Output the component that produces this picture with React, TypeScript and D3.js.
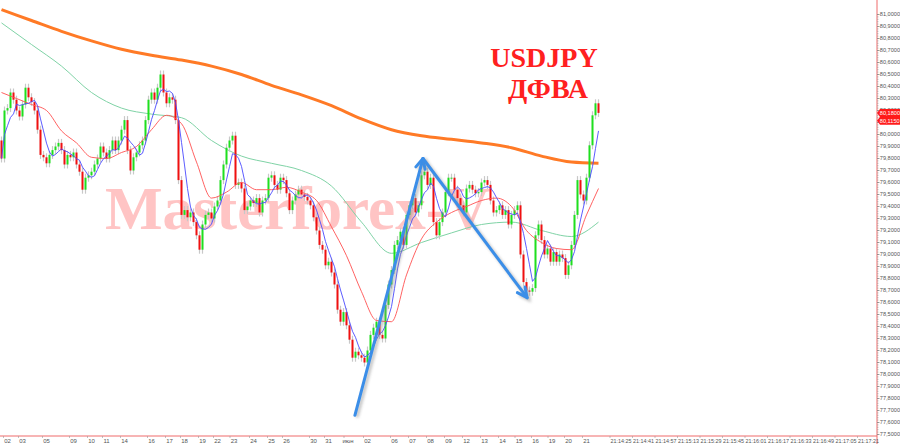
import React from "react";
import * as d3 from "d3";

// ---- DATA ----
const firstOpen = 79.95;
const closes: number[] = [
  79.80, 80.20, 80.22, 80.35, 80.29, 80.20, 80.15, 80.25, 80.39, 80.31,
  80.27, 80.20, 80.04, 79.83, 79.81, 79.76, 79.83, 79.87, 79.90, 79.93,
  79.87, 79.75, 79.83, 79.81, 79.85, 79.75, 79.69, 79.54, 79.64, 79.66,
  79.69, 79.75, 79.80, 79.90, 79.85, 79.80, 79.87, 79.95, 79.87, 79.95,
  80.04, 80.12, 79.87, 79.70, 79.81, 79.85, 79.91, 79.95, 80.12, 80.29,
  80.35, 80.29, 80.39, 80.50, 80.35, 80.26, 80.31, 80.29, 80.12, 79.62,
  79.33, 79.37, 79.31, 79.35, 79.27, 79.16, 79.04, 79.25, 79.33, 79.35,
  79.30, 79.40, 79.45, 79.62, 79.75, 79.89, 79.95, 79.99, 79.58, 79.60,
  79.55, 79.37, 79.40, 79.45, 79.43, 79.47, 79.35, 79.45, 79.47, 79.64,
  79.66, 79.58, 79.54, 79.64, 79.62, 79.51, 79.37, 79.45, 79.50, 79.54,
  79.50, 79.48, 79.45, 79.41, 79.31, 79.20, 79.08, 79.04, 78.91, 78.94,
  78.85, 78.75, 78.54, 78.44, 78.52, 78.41, 78.29, 78.14, 78.19, 78.16,
  78.14, 78.10, 78.20, 78.33, 78.39, 78.44, 78.33, 78.30, 78.58, 78.75,
  78.87, 79.08, 79.12, 79.19, 79.08, 79.33, 79.41, 79.47, 79.35, 79.41,
  79.66, 79.69, 79.58, 79.64, 79.27, 79.16, 79.27, 79.35, 79.52, 79.64,
  79.64, 79.54, 79.47, 79.41, 79.35, 79.55, 79.58, 79.54, 79.51, 79.52,
  79.60, 79.62, 79.58, 79.45, 79.35, 79.37, 79.41, 79.33, 79.37, 79.25,
  79.33, 79.37, 79.41, 79.00, 78.77, 78.70, 78.69, 78.72, 79.16, 79.25,
  79.12, 79.00, 79.05, 78.94, 79.02, 78.94, 79.00, 78.97, 78.83, 78.91,
  79.08, 79.33, 79.62, 79.50, 79.45, 79.64, 79.91, 80.16, 80.26, 80.18,
];

// moving averages (red: every 5 bars, green/orange: every 10 bars)
const redMA: number[] = [
  80.35, 80.30, 80.25, 80.20, 80.03, 79.93, 79.81, 79.80, 79.85, 79.90,
  80.04, 80.16, 80.09, 79.77, 79.47, 79.52, 79.60, 79.54, 79.54, 79.56,
  79.52, 79.45, 79.23, 78.99, 78.69, 78.45, 78.44, 78.83, 79.13, 79.27,
  79.35, 79.40, 79.45, 79.47, 79.40, 79.20, 79.10, 79.05, 79.04, 79.33,
  79.55,
];
const greenMA: number[] = [
  80.93, 80.75, 80.57, 80.35, 80.22, 80.17, 80.14, 79.95, 79.82, 79.76,
  79.70, 79.57, 79.27, 79.01, 79.10, 79.18, 79.25, 79.27, 79.20, 79.15,
  79.27,
];
const orangeMA: number[] = [
  81.04, 80.95, 80.86, 80.78, 80.71, 80.66, 80.62, 80.57, 80.50, 80.41,
  80.33, 80.24, 80.13, 80.04, 79.99, 79.96, 79.93, 79.89, 79.82, 79.77,
  79.76,
];

const yTickValues: number[] = [
  77.5, 77.6, 77.7, 77.8, 77.9, 78.0, 78.1, 78.2, 78.3, 78.4, 78.5, 78.6,
  78.7, 78.8, 78.9, 79.0, 79.1, 79.2, 79.3, 79.4, 79.5, 79.6, 79.7, 79.8,
  79.9, 80.0, 80.1, 80.2, 80.3, 80.4, 80.5, 80.6, 80.7, 80.8, 80.9, 81.0,
];

const dayLabels: string[] = [
  "02", "03", "05", "09", "10", "11", "14", "16", "17", "18", "19", "22", "23",
  "24", "25", "26", "30", "31", "июн", "02", "06", "07", "08", "09", "12",
  "13", "14", "15", "16", "19", "20", "21",
];
const dayLabelIdx: number[] = [
  2, 7, 15, 24, 30, 35, 41, 50, 56, 61, 67, 72, 77.5, 84, 90, 95, 104, 109,
  115.5, 122, 131, 137, 143, 149, 155, 161, 167, 172.5, 178, 183.5, 189, 195,
];
const timeLabels: string[] = [
  "21:14:25", "21:14:41", "21:14:57", "21:15:13", "21:15:29", "21:15:45",
  "21:16:01", "21:16:17", "21:16:33", "21:16:49", "21:17:05", "21:17:21",
];
const timeLabelIdx: number[] = [
  206.5, 214, 221.5, 229, 236.5, 244, 251.5, 259, 266.5, 274, 281.5, 289,
];

// arrows: [bar index, price]
const arrowUp: [number, number][] = [[117.8, 77.66], [140.5, 79.8]];
const arrowDown: [number, number][] = [[140.5, 79.8], [175.2, 78.64]];

const lastPrices: number[] = [80.18, 80.115];
const lastPriceTexts: string[] = ["80,1800", "80,1150"];

// ---- COMPONENT ----
export default function App() {
  const W = 900;
  const H = 444;
  const axisX = 877;
  const axisY = 436;

  const x = d3.scaleLinear().domain([0, 199]).range([1.5, 598.5]);
  const y = d3.scaleLinear().domain([77.5, 81]).range([434.5, 14.5]);

  const candles = closes.map((c, i) => ({ i, o: i === 0 ? firstOpen : closes[i - 1], c }));
  const blue: [number, number][] = closes.map((_, i) => [
    i,
    d3.mean(closes.slice(Math.max(0, i - 4), i + 1)) as number,
  ]);

  const smooth = d3
    .line<[number, number]>()
    .x((d) => x(d[0]))
    .y((d) => y(d[1]))
    .curve(d3.curveMonotoneX);
  const straight = d3
    .line<[number, number]>()
    .x((d) => x(d[0]))
    .y((d) => y(d[1]));

  const redPts: [number, number][] = redMA.map((v, k) => [Math.min(k * 5, 199), v]);
  const greenPts: [number, number][] = greenMA.map((v, k) => [Math.min(k * 10, 199), v]);
  const orangePts: [number, number][] = orangeMA.map((v, k) => [Math.min(k * 10, 199), v]);

  const fmt = (v: number) => d3.format(".4f")(v).replace(".", ",");
  const minor = d3.range(77.5, 81.0001, 0.02);

  const arrowHead = (pts: [number, number][]) => {
    const [a, b] = pts;
    const x1 = x(a[0]), y1 = y(a[1]), x2 = x(b[0]), y2 = y(b[1]);
    const ang = Math.atan2(y2 - y1, x2 - x1);
    const len = 11;
    const spread = Math.PI / 7;
    const p1 = [x2 - len * Math.cos(ang - spread), y2 - len * Math.sin(ang - spread)];
    const p2 = [x2 - len * Math.cos(ang + spread), y2 - len * Math.sin(ang + spread)];
    return `M${p1[0]},${p1[1]}L${x2},${y2}L${p2[0]},${p2[1]}`;
  };

  const arrowColor = "#3b8ee8";
  const gridFont = "'Liberation Sans', Arial, sans-serif";

  return (
    <svg
      width={W}
      height={H}
      viewBox={`0 0 ${W} ${H}`}
      style={{ position: "absolute", left: 0, top: 0, background: "#fff" }}
    >
      <defs>
        <filter id="shadow" x="-20%" y="-20%" width="140%" height="140%">
          <feGaussianBlur stdDeviation="1.6" />
        </filter>
        <clipPath id="plot">
          <rect x={0} y={0} width={axisX} height={axisY} />
        </clipPath>
      </defs>
      <rect x={0} y={0} width={W} height={H} fill="#fff" />

      {/* watermark */}
      <text
        x={105}
        y={229}
        fontFamily="'Liberation Serif', 'Times New Roman', serif"
        fontWeight="bold"
        fontSize={61}
        fill="#ffc4c4"
      >
        Masterforex-V
      </text>

      <g clipPath="url(#plot)">
        {/* green MA */}
        <path d={smooth(greenPts) || ""} fill="none" stroke="#7fd3a6" strokeWidth={1} />
        {/* orange MA */}
        <path d={smooth(orangePts) || ""} fill="none" stroke="#ff7a26" strokeWidth={3} />

        {/* candles */}
        {candles.map((d) => {
          const cx = x(d.i);
          const top = y(Math.max(d.o, d.c));
          const bot = y(Math.min(d.o, d.c));
          const up = d.c >= d.o;
          return (
            <g key={d.i}>
              <line x1={cx} x2={cx} y1={top - 4} y2={bot + 4} stroke="#c8c8c8" strokeWidth={1.2} />
              <rect
                x={cx - 1}
                y={top}
                width={2}
                height={Math.max(1, bot - top)}
                fill={up ? "#1ee01e" : "#f01010"}
              />
            </g>
          );
        })}

        {/* red MA */}
        <path d={smooth(redPts) || ""} fill="none" stroke="#ff5050" strokeWidth={0.9} />
        {/* blue MA */}
        <path d={straight(blue) || ""} fill="none" stroke="#4a4aff" strokeWidth={0.9} />

        {/* arrows */}
        {[arrowUp, arrowDown].map((pts, k) => (
          <g key={k}>
            <g transform="translate(2,2)" filter="url(#shadow)" opacity={0.55}>
              <path d={straight(pts) || ""} stroke="#888" strokeWidth={3} fill="none" />
              <path d={arrowHead(pts)} stroke="#888" strokeWidth={3} fill="none" />
            </g>
            <path d={straight(pts) || ""} stroke={arrowColor} strokeWidth={3} fill="none" strokeLinecap="round" />
            <path d={arrowHead(pts)} stroke={arrowColor} strokeWidth={3} fill="none" strokeLinecap="round" strokeLinejoin="round" />
          </g>
        ))}
      </g>

      {/* title */}
      <g fontFamily="'Liberation Serif', 'Times New Roman', serif" fontWeight="bold" fill="#ff2020" textAnchor="middle">
        <text x={544} y={67} fontSize={28}>USDJPY</text>
        <text x={548} y={98} fontSize={28}>ДФВА</text>
      </g>

      {/* right axis */}
      <line x1={axisX} x2={axisX} y1={0} y2={H} stroke="#ef6a6a" strokeWidth={1} />
      {minor.map((v, k) => (
        <line key={"m" + k} x1={axisX} x2={axisX + 1.5} y1={y(v)} y2={y(v)} stroke="#999" strokeWidth={0.6} />
      ))}
      {yTickValues.map((v) => (
        <g key={v}>
          <line x1={axisX} x2={axisX + 2.5} y1={y(v)} y2={y(v)} stroke="#888" strokeWidth={0.8} />
          <text
            x={axisX + 2.8}
            y={y(v)}
            dy="0.35em"
            fontSize={5.6}
            fontFamily={gridFont}
            fill="#555"
          >
            {fmt(v)}
          </text>
        </g>
      ))}
      {lastPrices.map((v, k) => (
        <g key={"lp" + k}>
          <path
            d={`M${axisX},${y(v)}L${axisX + 3},${y(v) - 4}L${W},${y(v) - 4}L${W},${y(v) + 4}L${axisX + 3},${y(v) + 4}Z`}
            fill="#ff1a1a"
          />
          <text
            x={axisX + 2.8}
            y={y(v)}
            dy="0.35em"
            fontSize={5.6}
            fontFamily={gridFont}
            fill="#fff"
          >
            {lastPriceTexts[k]}
          </text>
        </g>
      ))}

      {/* bottom axis */}
      <line x1={0} x2={axisX} y1={axisY} y2={axisY} stroke="#ef6a6a" strokeWidth={1} />
      {dayLabels.map((t, k) => (
        <g key={"d" + k}>
          <line x1={x(dayLabelIdx[k]) - 4} x2={x(dayLabelIdx[k]) - 4} y1={axisY} y2={axisY + 2} stroke="#999" strokeWidth={0.6} />
          <text
            x={x(dayLabelIdx[k])}
            y={443}
            textAnchor="middle"
            fontSize={6}
            fontFamily={gridFont}
            fill="#555"
          >
            {t}
          </text>
        </g>
      ))}
      {timeLabels.map((t, k) => (
        <g key={"t" + k}>
          <line x1={x(timeLabelIdx[k]) - 11} x2={x(timeLabelIdx[k]) - 11} y1={axisY} y2={axisY + 2} stroke="#999" strokeWidth={0.6} />
          <text
            x={x(timeLabelIdx[k])}
            y={443}
            textAnchor="middle"
            fontSize={5.4}
            fontFamily={gridFont}
            fill="#555"
          >
            {t}
          </text>
        </g>
      ))}
    </svg>
  );
}
